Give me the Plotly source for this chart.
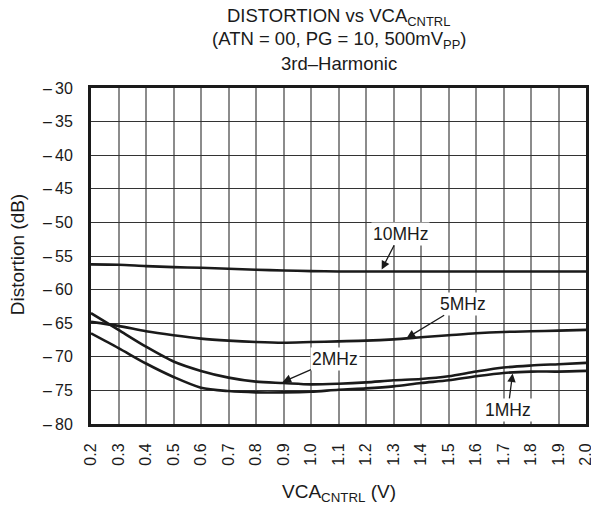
import plotly.graph_objects as go

# ---- data ----
vca = [0.2, 0.3, 0.4, 0.5, 0.6, 0.7, 0.8, 0.9, 1.0, 1.1, 1.2, 1.3, 1.4, 1.5, 1.6, 1.7, 1.8, 1.9, 2.0]
dist_10mhz = [-56.25, -56.3, -56.5, -56.65, -56.75, -56.9, -57.05, -57.15, -57.25, -57.3,
              -57.3, -57.3, -57.3, -57.3, -57.3, -57.3, -57.3, -57.3, -57.3]
dist_5mhz = [-64.8, -65.4, -66.2, -66.8, -67.3, -67.6, -67.8, -67.9, -67.8, -67.7,
             -67.6, -67.4, -67.1, -66.8, -66.5, -66.3, -66.2, -66.1, -66.0]
dist_2mhz = [-63.5, -66.0, -68.5, -70.7, -72.1, -73.1, -73.7, -73.9, -74.1, -74.0,
             -73.8, -73.5, -73.3, -72.9, -72.2, -71.6, -71.3, -71.1, -70.9]
dist_1mhz = [-66.5, -68.7, -71.0, -73.0, -74.6, -75.1, -75.3, -75.3, -75.2, -74.9,
             -74.7, -74.4, -73.9, -73.5, -72.9, -72.4, -72.2, -72.2, -72.1]

x_tickvals = vca
x_ticktext = ["0.2", "0.3", "0.4", "0.5", "0.6", "0.7", "0.8", "0.9", "1.0", "1.1",
              "1.2", "1.3", "1.4", "1.5", "1.6", "1.7", "1.8", "1.9", "2.0"]
y_tickvals = [-30, -35, -40, -45, -50, -55, -60, -65, -70, -75, -80]
y_ticktext = ["\u2013\u200930", "\u2013\u200935", "\u2013\u200940", "\u2013\u200945", "\u2013\u200950",
              "\u2013\u200955", "\u2013\u200960", "\u2013\u200965", "\u2013\u200970", "\u2013\u200975",
              "\u2013\u200980"]

FONT = "Liberation Sans, Arial, sans-serif"
INK = "#1a1a1a"

fig = go.Figure()
for name, ys in [("10MHz", dist_10mhz), ("5MHz", dist_5mhz), ("2MHz", dist_2mhz), ("1MHz", dist_1mhz)]:
    fig.add_trace(go.Scatter(x=vca, y=ys, mode="lines", name=name,
                             line=dict(color=INK, width=2.6, shape="spline", smoothing=0.8),
                             showlegend=False))

fig.update_xaxes(range=[0.2, 2.0], tickvals=x_tickvals, ticktext=x_ticktext, tickangle=-90,
                 showgrid=True, gridcolor="#8c8c8c", gridwidth=1.5,
                 showline=True, linecolor=INK, linewidth=3, mirror=True,
                 ticks="", ticklabelstandoff=10, zeroline=False, automargin=False,
                 ticklabeloverflow="allow",
                 tickfont=dict(family=FONT, size=16, color=INK))
fig.update_yaxes(range=[-80, -30], tickvals=y_tickvals, ticktext=y_ticktext,
                 showgrid=True, gridcolor="#333333", gridwidth=1.3,
                 showline=True, linecolor=INK, linewidth=3, mirror=True,
                 ticks="", ticklabelstandoff=12, zeroline=False, automargin=False,
                 ticklabeloverflow="allow",
                 tickfont=dict(family=FONT, size=16, color=INK))

annos = []
# title lines
for text, yp in [("DISTORTION vs VCA<sub>CNTRL</sub>", 1.211),
                 ("(ATN = 00, PG = 10, 500mV<sub>PP</sub>)", 1.143),
                 ("3rd\u2013Harmonic", 1.074)]:
    annos.append(dict(text=text, xref="paper", yref="paper", x=0.5, y=yp,
                      xanchor="center", yanchor="middle", showarrow=False,
                      font=dict(family=FONT, size=18.5, color=INK)))
# axis titles
annos.append(dict(text="Distortion (dB)", xref="paper", yref="paper", x=-0.147, y=0.503,
                  xanchor="center", yanchor="middle", textangle=-90, showarrow=False,
                  font=dict(family=FONT, size=19, color=INK)))
annos.append(dict(text="VCA<sub>CNTRL</sub> (V)", xref="paper", yref="paper", x=0.5, y=-0.205,
                  xanchor="center", yanchor="middle", showarrow=False,
                  font=dict(family=FONT, size=19, color=INK)))
# curve labels with arrows (text at tail, arrow to tip)
for text, tx, ty, hx, hy in [("10MHz", 1.324, -51.7, 1.257, -57.0),
                             ("5MHz", 1.553, -62.1, 1.348, -67.2),
                             ("2MHz", 1.089, -70.3, 0.897, -73.75),
                             ("1MHz", 1.716, -77.9, 1.733, -72.5)]:
    annos.append(dict(text=text, x=hx, y=hy, ax=tx, ay=ty, xref="x", yref="y", axref="x", ayref="y",
                      showarrow=True, arrowhead=2, arrowsize=1.3, arrowwidth=1.3, arrowcolor=INK,
                      bgcolor="white", borderpad=1,
                      font=dict(family=FONT, size=17.5, color=INK)))

fig.update_layout(width=591, height=506, margin=dict(l=91, r=5, t=88, b=82),
                  paper_bgcolor="white", plot_bgcolor="white", annotations=annos)

fig.write_html("out.html", config={"displayModeBar": False},
               post_script="document.body.style.margin='0';document.body.style.overflow='hidden';")
